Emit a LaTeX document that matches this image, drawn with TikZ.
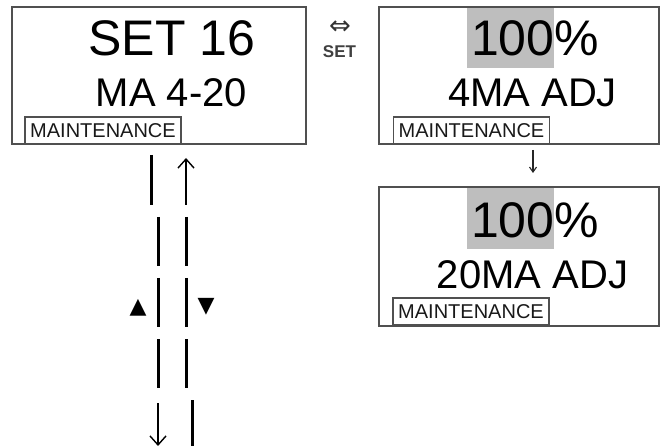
\documentclass[tikz,border=0pt]{standalone}
\usepackage{fontspec}
\setmainfont{Liberation Sans}
\newfontfamily\dejavu{DejaVu Sans}
\usetikzlibrary{arrows.meta}
\definecolor{frame}{RGB}{80,80,80}
\definecolor{hlgray}{RGB}{190,190,190}
\definecolor{tagtext}{RGB}{25,25,25}
\begin{document}
\begin{tikzpicture}[x=1pt,y=-1pt,
  screen/.style={draw=frame,line width=1.3pt,inner sep=0pt,outer sep=0pt},
  tag/.style={draw=frame,line width=1.3pt,inner sep=0pt,outer sep=0pt,
    minimum width=156pt,minimum height=27pt,text=tagtext,
    font=\fontsize{20}{20}\selectfont},
  big/.style={inner sep=0pt,anchor=base,font=\fontsize{50}{50}\selectfont},
  mid/.style={inner sep=0pt,anchor=base,font=\fontsize{40}{40}\selectfont},
  hl/.style={fill=hlgray},
  dashseg/.style={line width=3pt,black},
  thinarrow/.style={line width=1.4pt,black,-{Straight Barb[length=9pt,width=16pt,line width=1.4pt]}},
  smallarrow/.style={line width=1.1pt,black!85,-{Straight Barb[length=5pt,width=7pt,line width=1.1pt]}}]
\useasboundingbox (0,0) rectangle (661,446);
% highlights
\fill[hl] (467,7) rectangle (554,68);
\fill[hl] (467,187) rectangle (554,249);
% screens
\node[screen,minimum width=294pt,minimum height=137pt] (b1) at (159,75.5) {};
\node[screen,minimum width=280pt,minimum height=137pt] (b2) at (519,75.5) {};
\node[screen,minimum width=280pt,minimum height=139pt] (b3) at (519,256.5) {};
% texts
\node[big] (t1a) at (172,56) {SET 16};
\node[mid] (t1b) at (171.5,107) {MA 4-20};
\node[big] (t2a) at (535,56) {100\%};
\node[mid] (t2b) at (532.5,107) {4MA ADJ};
\node[big] (t3a) at (535,238) {100\%};
\node[mid] (t3b) at (532.5,289) {20MA ADJ};
% tags
\node[tag] (m1) at (103,130.5) {MAINTENANCE};
\node[tag] (m2) at (471.5,130.5) {MAINTENANCE};
\node[tag] (m3) at (471,311.5) {MAINTENANCE};
% SET key between screens
\node[inner sep=0pt,font=\dejavu\fontsize{26}{26}\selectfont,text=black!80] (dbl) at (340,28) {⇔};
\node[inner sep=0pt,anchor=base,font=\bfseries\fontsize{17}{17}\selectfont,text=black!75] (setk) at (339.5,58) {SET};
% arrow box2 -> box3
\coordinate (s23) at (533,150);
\coordinate (e23) at (533,173);
\draw[smallarrow] (s23) -- (e23);
% up/down flows
\coordinate (upS) at (186,205);
\coordinate (upE) at (186,158);
\draw[thinarrow] (upS) -- (upE);
\coordinate (dnS) at (158,403);
\coordinate (dnE) at (158,446);
\draw[thinarrow] (dnS) -- (dnE);
\draw[dashseg] (151,155) -- (151,205);
\foreach \y in {217,278,339} {
  \draw[dashseg] (158,\y) -- (158,\y+49);
  \draw[dashseg] (186,\y) -- (186,\y+49);
}
\draw[dashseg] (192,400) -- (192,446);
% key symbols
\node[inner sep=0pt,font=\dejavu\fontsize{22}{22}\selectfont] (upk) at (138,308) {▲};
\node[inner sep=0pt,font=\dejavu\fontsize{22}{22}\selectfont] (dnk) at (206,307) {▼};
\end{tikzpicture}
\end{document}
